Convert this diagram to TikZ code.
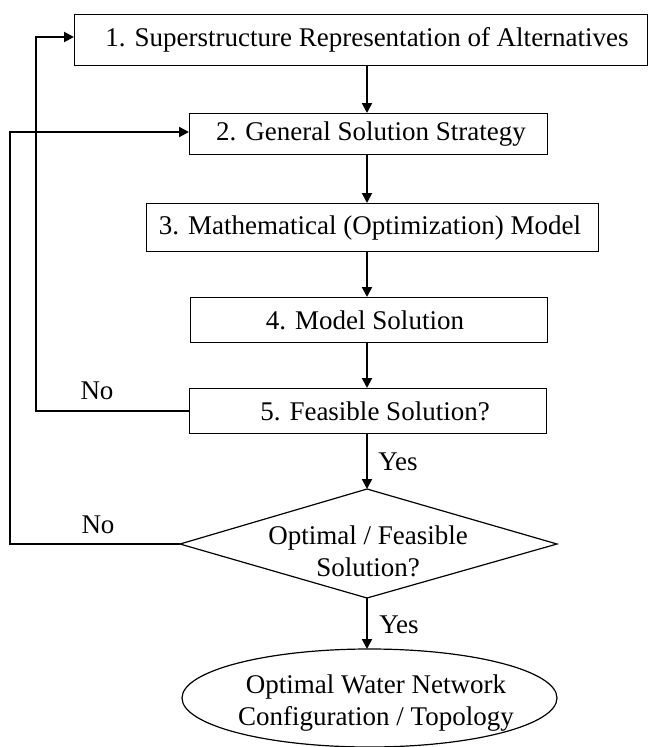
\documentclass[tikz,border=0pt]{standalone}
\usepackage{fontspec}
\setmainfont{Liberation Serif}
\usetikzlibrary{shapes.geometric,arrows.meta}
\begin{document}
\begin{tikzpicture}[x=1pt,y=-1pt,
  every node/.style={font=\fontsize{27}{32}\selectfont, inner sep=0pt},
  stepbox/.style={draw, line width=1.2pt, rectangle, anchor=north west},
  flow/.style={line width=2pt, -{Triangle[length=10pt,width=10pt]}},
  back/.style={line width=1.2pt}]
\useasboundingbox (0,0) rectangle (648,747);
% process steps
\node[stepbox, minimum width=573pt, minimum height=51pt] (s1) at (74,14) {};
\node (t1) at (367,40) {1. Superstructure Representation of Alternatives};
\node[stepbox, minimum width=358pt, minimum height=41pt] (s2) at (189,113) {};
\node (t2) at (371,134) {2. General Solution Strategy};
\node[stepbox, minimum width=452pt, minimum height=48pt] (s3) at (146,203) {};
\node (t3) at (370,228) {3. Mathematical (Optimization) Model};
\node[stepbox, minimum width=357pt, minimum height=45pt] (s4) at (190,297) {};
\node (t4) at (365,320) {4. Model Solution};
\node[stepbox, minimum width=357pt, minimum height=45pt] (s5) at (189,388) {};
\node (t5) at (375,411) {5. Feasible Solution?};
% decision
\draw[line width=1.2pt] (367,489) coordinate (dt) -- (557,544) coordinate (dr)
  -- (367,598) coordinate (db) -- (180,544) coordinate (dl) -- cycle;
\node[align=center] (dtext) at (368,551) {Optimal / Feasible\\Solution?};
% result
\draw[line width=1.2pt] (369.5,698) ellipse [x radius=187.5, y radius=49];
\coordinate (et) at (367,649);
\node[align=center] (etext) at (376,703) {Optimal Water Network\\Configuration / Topology};
% main flow
\draw[flow] (367,65) -- (367,113);
\draw[flow] (367,154) -- (367,203);
\draw[flow] (367,251) -- (367,297);
\draw[flow] (367,342) -- (367,388);
\draw[flow] (367,433) -- (dt);
\draw[flow] (db) -- (et);
\node (y1) at (398,462) {Yes};
\node (y2) at (399,625) {Yes};
% feedback loops
\coordinate (a1) at (36,411);
\coordinate (a2) at (36,37);
\draw[back] (s5.west |- 0,411) -- (a1) -- (a2) -- (46,37);
\draw[flow] (44,37) -- (74,37);
\node (n1) at (97,391) {No};
\coordinate (b1) at (10,544);
\coordinate (b2) at (10,132);
\draw[back] (dl) -- (b1) -- (b2);
\draw[flow] (9.4,132) -- (189,132);
\node (n2) at (98,525) {No};
\end{tikzpicture}
\end{document}
